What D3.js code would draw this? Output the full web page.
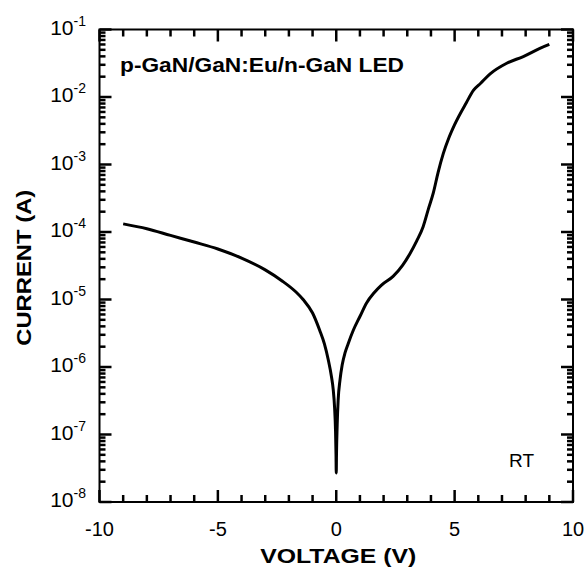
<!DOCTYPE html>
<html>
<head>
<meta charset="utf-8">
<script src="https://cdn.jsdelivr.net/npm/d3@7"></script>
<style>
  body { margin: 0; background: #fff; }
  svg { display: block; font-family: "Liberation Sans", Arial, sans-serif; }
</style>
</head>
<body>
<div id="chart"></div>
<script>
// I-V curve (voltage in V, current in A)
var voltage = [-9, -8, -7, -6, -5, -4, -3, -2.3, -1.7, -1.4, -1.0, -0.7, -0.5, -0.34, -0.2, -0.13, -0.07, -0.03, -0.01, 0,
    0.01, 0.04, 0.08, 0.16, 0.25, 0.37, 0.5, 0.72, 1.0, 1.28, 1.6, 1.9, 2.4, 2.8, 3.1, 3.4, 3.67, 3.9, 4.1, 4.3,
    4.52, 4.75, 5.0, 5.5, 5.8, 6.1, 6.5, 7.2, 7.9, 8.6, 9.0];
var current = [1.32e-4, 1.12e-4, 8.9e-5, 7.1e-5, 5.6e-5, 4.1e-5, 2.75e-5, 1.9e-5, 1.29e-5, 1.0e-5, 6.3e-6, 3.5e-6, 2.2e-6, 1.29e-6, 7.1e-7, 4.7e-7, 2.5e-7, 1.12e-7, 5.0e-8, 2.7e-8,
    5.0e-8, 1.41e-7, 3.2e-7, 6.5e-7, 1.07e-6, 1.62e-6, 2.2e-6, 3.5e-6, 5.6e-6, 8.9e-6, 1.26e-5, 1.62e-5, 2.2e-5, 3.2e-5, 4.7e-5, 7.4e-5, 1.2e-4, 2.24e-4, 3.8e-4, 7.6e-4,
    1.45e-3, 2.45e-3, 3.9e-3, 8.3e-3, 1.26e-2, 1.6e-2, 2.2e-2, 3.16e-2, 3.98e-2, 5.25e-2, 6.0e-2];

var xTicks = [-10, -5, 0, 5, 10];
var xMinorTicks = [-9, -8, -7, -6, -4, -3, -2, -1, 1, 2, 3, 4, 6, 7, 8, 9];
var yDecades = [-8, -7, -6, -5, -4, -3, -2, -1];

var title = "p-GaN/GaN:Eu/n-GaN LED";
var xLabel = "VOLTAGE  (V)";
var yLabel = "CURRENT  (A)";
var note = "RT";

var width = 587, height = 568;
var plotL = 99.5, plotR = 573, plotT = 29.5, plotB = 502;

var svg = d3.select("#chart").append("svg")
    .attr("width", width)
    .attr("height", height);

var x = d3.scaleLinear().domain([-10, 10]).range([plotL, plotR]);
var y = d3.scaleLog().domain([1e-8, 1e-1]).range([plotB, plotT]);

var majorY = yDecades.map(function (e) { return Math.pow(10, e); });
var minorY = [];
yDecades.forEach(function (e) {
    if (e === -1) return;
    for (var k = 2; k <= 9; k++) minorY.push(k * Math.pow(10, e));
});

// x tick labels
xTicks.forEach(function (v) {
    svg.append("text")
        .attr("x", x(v))
        .attr("y", plotB + 34)
        .attr("text-anchor", "middle")
        .style("font-size", "20px")
        .text(v);
});

// y tick labels as 10^n
yDecades.forEach(function (e) {
    var t = svg.append("text")
        .attr("x", 86)
        .attr("y", y(Math.pow(10, e)) + 5)
        .attr("text-anchor", "end")
        .style("font-size", "21px");
    t.append("tspan").text("10");
    t.append("tspan").attr("dy", -9).style("font-size", "14px").text(e);
});

// curve
var pts = voltage.map(function (v, i) { return [v, current[i]]; });
svg.append("path")
    .datum(pts)
    .attr("fill", "none")
    .attr("stroke", "#000")
    .attr("stroke-width", 3)
    .attr("stroke-linejoin", "round")
    .attr("d", d3.line()
        .x(function (d) { return x(d[0]); })
        .y(function (d) { return y(d[1]); })
        .curve(d3.curveMonotoneX));

// texts
svg.append("text")
    .attr("x", 120)
    .attr("y", 72)
    .attr("textLength", 284)
    .attr("lengthAdjust", "spacingAndGlyphs")
    .style("font-size", "20px")
    .style("font-weight", "bold")
    .text(title);

svg.append("text")
    .attr("x", 509)
    .attr("y", 467)
    .style("font-size", "19px")
    .text(note);

svg.append("text")
    .attr("x", (plotL + plotR) / 2 + 2)
    .attr("y", 563)
    .attr("text-anchor", "middle")
    .attr("textLength", 156)
    .attr("lengthAdjust", "spacingAndGlyphs")
    .style("font-size", "20px")
    .style("font-weight", "bold")
    .text(xLabel);

svg.append("text")
    .attr("transform", "translate(31," + ((plotB + plotT) / 2 + 2) + ") rotate(-90)")
    .attr("text-anchor", "middle")
    .attr("textLength", 156)
    .attr("lengthAdjust", "spacingAndGlyphs")
    .style("font-size", "20px")
    .style("font-weight", "bold")
    .text(yLabel);

// frame
svg.append("rect")
    .attr("x", plotL).attr("y", plotT)
    .attr("width", plotR - plotL).attr("height", plotB - plotT)
    .attr("fill", "none").attr("stroke", "#000").attr("stroke-width", 2);

// ticks drawn last, pointing inward, mirrored on opposite sides
var tg = svg.append("g").attr("stroke", "#000").attr("stroke-width", 2.5);
xTicks.forEach(function (v) {
    tg.append("line").attr("x1", x(v)).attr("x2", x(v)).attr("y1", plotB).attr("y2", plotB - 12);
    tg.append("line").attr("x1", x(v)).attr("x2", x(v)).attr("y1", plotT).attr("y2", plotT + 12);
});
xMinorTicks.forEach(function (v) {
    tg.append("line").attr("x1", x(v)).attr("x2", x(v)).attr("y1", plotB).attr("y2", plotB - 7);
    tg.append("line").attr("x1", x(v)).attr("x2", x(v)).attr("y1", plotT).attr("y2", plotT + 7);
});
majorY.forEach(function (v) {
    tg.append("line").attr("x1", plotL).attr("x2", plotL + 12).attr("y1", y(v)).attr("y2", y(v));
    tg.append("line").attr("x1", plotR).attr("x2", plotR - 12).attr("y1", y(v)).attr("y2", y(v));
});
minorY.forEach(function (v) {
    tg.append("line").attr("x1", plotL).attr("x2", plotL + 6).attr("y1", y(v)).attr("y2", y(v));
    tg.append("line").attr("x1", plotR).attr("x2", plotR - 6).attr("y1", y(v)).attr("y2", y(v));
});
</script>
</body>
</html>
